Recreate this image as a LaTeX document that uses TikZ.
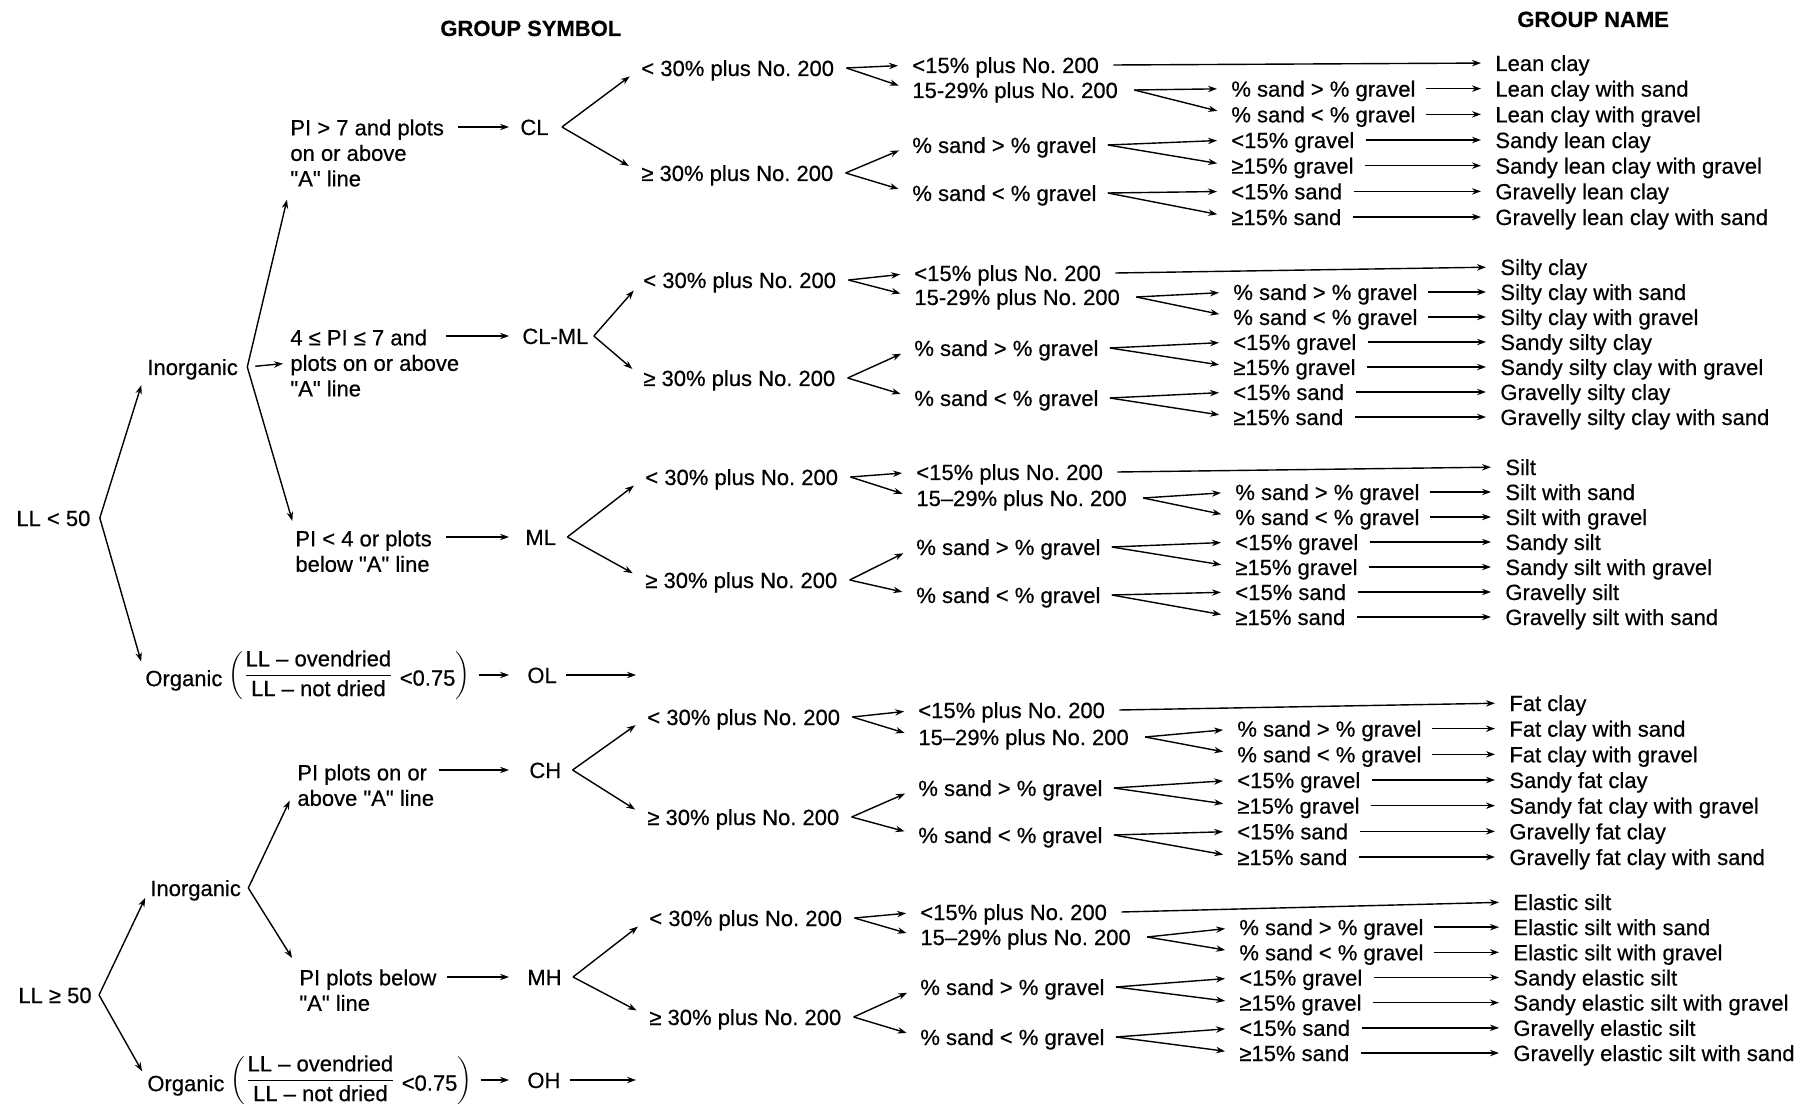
\documentclass[tikz,border=0pt]{standalone}
\usepackage{fontspec}
\setmainfont{Liberation Sans}[Ligatures=TeXOff, FakeBold=0.5]
\usetikzlibrary{arrows.meta}
\frenchspacing
\newcommand\dgfont{\fontsize{11pt}{12.75pt}\selectfont\frenchspacing}
\tikzset{
  txt/.style={inner sep=0pt, text height=8pt, text depth=0pt, anchor=west, font=\dgfont},
  mtxt/.style={inner sep=0pt, align=left, anchor=north west, font=\dgfont},
  otxt/.style={inner sep=0pt, anchor=west, font=\dgfont},
  hdr/.style={inner sep=0pt, text height=8pt, text depth=0pt, anchor=west, font=\dgfont\bfseries},
  arr/.style={line width=0.7pt, -{Stealth[length=4.5pt,width=3.2pt]}, shorten >=7pt},
}
% #1 prefix, #2 symbol node, #3 y <30, #4 y >=30, #5 y <15 plus, #6 y 15-29, #7 y sand>gravel, #8 y sand<gravel
\newcommand\soilgrp[8]{%
  \node[txt] (#1a) at ({641+\sgdx},#3) {< 30\% plus No. 200};
  \node[txt] (#1b) at ({641+\sgdx},#4) {≥ 30\% plus No. 200};
  \node[txt] (#1c) at ({912+\sgdx},#5) {<15\% plus No. 200};
  \node[txt] (#1d) at ({912+\sgdx},#6) {\sgdash\% plus No. 200};
  \node[txt] (#1e) at ({912+\sgdx},#7) {\% sand > \% gravel};
  \node[txt] (#1f) at ({912+\sgdx},#8) {\% sand < \% gravel};
  \node[txt] (#1g) at ({1231+\sgdx},{\sgy+\sgsp}) {\% sand > \% gravel};
  \node[txt] (#1h) at ({1231+\sgdx},{\sgy+2*\sgsp}) {\% sand < \% gravel};
  \node[txt] (#1i) at ({1231+\sgdx},{\sgy+3*\sgsp}) {<15\% gravel};
  \node[txt] (#1j) at ({1231+\sgdx},{\sgy+4*\sgsp}) {≥15\% gravel};
  \node[txt] (#1k) at ({1231+\sgdx},{\sgy+5*\sgsp}) {<15\% sand};
  \node[txt] (#1l) at ({1231+\sgdx},{\sgy+6*\sgsp}) {≥15\% sand};
  \node[txt] (#1n0) at (\sgnx,{\sgy}) {\sgcap};
  \node[txt] (#1n1) at (\sgnx,{\sgy+\sgsp}) {\sgcap{} with sand};
  \node[txt] (#1n2) at (\sgnx,{\sgy+2*\sgsp}) {\sgcap{} with gravel};
  \node[txt] (#1n3) at (\sgnx,{\sgy+3*\sgsp}) {Sandy \sglow};
  \node[txt] (#1n4) at (\sgnx,{\sgy+4*\sgsp}) {Sandy \sglow{} with gravel};
  \node[txt] (#1n5) at (\sgnx,{\sgy+5*\sgsp}) {Gravelly \sglow};
  \node[txt] (#1n6) at (\sgnx,{\sgy+6*\sgsp}) {Gravelly \sglow{} with sand};
  \draw[arr] ([xshift=\sgsg]#2.east) -- (#1a.west);
  \draw[arr] ([xshift=\sgsg]#2.east) -- (#1b.west);
  \draw[arr] ([xshift=6pt]#1a.east) -- (#1c.west);
  \draw[arr] ([xshift=6pt]#1a.east) -- (#1d.west);
  \draw[arr] ([xshift=6pt]#1b.east) -- (#1e.west);
  \draw[arr] ([xshift=6pt]#1b.east) -- (#1f.west);
  \draw[arr] ([xshift=7pt]#1c.east) -- (#1n0.west);
  \draw[arr] ([xshift=8pt]#1d.east) -- (#1g.west);
  \draw[arr] ([xshift=8pt]#1d.east) -- (#1h.west);
  \draw[arr] ([xshift=5.5pt]#1e.east) -- (#1i.west);
  \draw[arr] ([xshift=5.5pt]#1e.east) -- (#1j.west);
  \draw[arr] ([xshift=5.5pt]#1f.east) -- (#1k.west);
  \draw[arr] ([xshift=5.5pt]#1f.east) -- (#1l.west);
  \draw[arr] ([xshift=5pt]#1g.east) -- (#1n1.west);
  \draw[arr] ([xshift=5pt]#1h.east) -- (#1n2.west);
  \draw[arr] ([xshift=5.5pt]#1i.east) -- (#1n3.west);
  \draw[arr] ([xshift=5.5pt]#1j.east) -- (#1n4.west);
  \draw[arr] ([xshift=5.5pt]#1k.east) -- (#1n5.west);
  \draw[arr] ([xshift=5.5pt]#1l.east) -- (#1n6.west);
}
\begin{document}
\begin{tikzpicture}[x=0.5pt,y=-0.5pt]
\fill[white] (0,0) rectangle (1806,1107);
\useasboundingbox (0,0) rectangle (1806,1107);

% headers
\node[hdr] (hsym) at (440,28) {GROUP SYMBOL};
\node[hdr] (hname) at (1517,19) {GROUP NAME};

% LL < 50 branch
\node[txt] (ll1) at (16,518) {LL < 50};
\node[txt] (ino1) at (147,367) {Inorganic};
\node[otxt] (org1) at (145,675) {\raisebox{-2.5pt}{Organic} \(\left(\displaystyle\frac{\mbox{LL – ovendried}}{\mbox{LL – not dried}}\ \raisebox{-2.25pt}{\mbox{<0.75}}\right)\)};
\node[txt] (ol) at (527,675) {OL};
\coordinate (olend) at (636,675);

\node[mtxt] (pi7) at (290,119) {PI > 7 and plots\\on or above\\"A" line};
\node[mtxt] (pi47) at (290,329) {4 ≤ PI ≤ 7 and\\plots on or above\\"A" line};
\node[mtxt] (pi4) at (295,530) {PI < 4 or plots\\below "A" line};

\node[txt] (cl) at (520,127) {CL};
\node[txt] (clml) at (522,336) {CL-ML};
\node[txt] (ml) at (525,537) {ML};

\draw[arr, shorten >=9.5pt] ([xshift=4.5pt]ll1.east) -- (ino1.west);
\draw[arr, shorten >=7pt] ([xshift=4.5pt]ll1.east) -- (org1.west);
\draw[arr, shorten >=6.5pt] ([xshift=4.5pt]ino1.east) -- (pi7.south west);
\draw[arr, shorten <=4pt, shorten >=3.5pt] ([xshift=4.5pt]ino1.east) -- (pi47.west);
\draw[arr, shorten >=4.75pt] ([xshift=4.5pt]ino1.east) -- (pi4.north west);
\draw[arr, shorten <=4pt, shorten >=9pt] (org1.east) -- (ol.west);
\draw[arr, shorten <=4.5pt, shorten >=0pt] (ol.east) -- (olend);
\draw[arr, shorten <=7pt, shorten >=5.5pt] (cl.west -| pi7.east) -- (cl.west);
\draw[arr, shorten >=6.5pt] ([shift={(156,7)}]pi47.north west) -- (clml.west);
\draw[arr, shorten <=7pt, shorten >=8pt] (ml.west -| pi4.east) -- (ml.west);

% LL >= 50 branch
\node[txt] (ll2) at (18,995) {LL ≥ 50};
\node[txt] (ino2) at (150,888) {Inorganic};
\node[otxt] (org2) at (147,1080) {\raisebox{-2.5pt}{Organic} \(\left(\displaystyle\frac{\mbox{LL – ovendried}}{\mbox{LL – not dried}}\ \raisebox{-2.25pt}{\mbox{<0.75}}\right)\)};
\node[txt] (oh) at (527,1080) {OH};
\coordinate (ohend) at (636,1080);

\node[mtxt] (pion) at (297,764) {PI plots on or\\above "A" line};
\node[mtxt] (pibel) at (299,969) {PI plots below\\"A" line};

\node[txt] (ch) at (529,770) {CH};
\node[txt] (mh) at (527,977) {MH};

\draw[arr, shorten >=5.5pt] ([xshift=3.5pt]ll2.east) -- (ino2.west);
\draw[arr, shorten >=5pt] ([xshift=3.5pt]ll2.east) -- (org2.west);
\draw[arr, shorten >=8.5pt] ([xshift=3.5pt]ino2.east) -- (pion.west);
\draw[arr, shorten >=6.5pt] ([xshift=3.5pt]ino2.east) -- (pibel.north west);
\draw[arr, shorten <=4pt, shorten >=9pt] (org2.east) -- (oh.west);
\draw[arr, shorten <=4.5pt, shorten >=0pt] (oh.east) -- (ohend);
\draw[arr, shorten <=2pt, shorten >=10pt] (ch.west -| pion.east) -- (ch.west);
\draw[arr, shorten <=5pt, shorten >=9pt] (mh.west -| pibel.east) -- (mh.west);

% groups
\def\sgdx{0}\def\sgnx{1495}\def\sgy{63}\def\sgsp{25.67}\def\sgsg{6.5pt}%
\def\sgcap{Lean clay}\def\sglow{lean clay}\def\sgdash{15-29}%
\soilgrp{ga}{cl}{68}{173}{65}{90}{145}{193}

\def\sgdx{2}\def\sgnx{1500}\def\sgy{267}\def\sgsp{25}\def\sgsg{2.5pt}%
\def\sgcap{Silty clay}\def\sglow{silty clay}\def\sgdash{15-29}%
\soilgrp{gb}{clml}{280}{378}{273}{297}{348}{398}

\def\sgdx{4}\def\sgnx{1505}\def\sgy{467}\def\sgsp{25}\def\sgsg{5.5pt}%
\def\sgcap{Silt}\def\sglow{silt}\def\sgdash{15–29}%
\soilgrp{gc}{ml}{477}{580}{472}{498}{547}{595}

\def\sgdx{6}\def\sgnx{1509}\def\sgy{703}\def\sgsp{25.67}\def\sgsg{5.5pt}%
\def\sgcap{Fat clay}\def\sglow{fat clay}\def\sgdash{15–29}%
\soilgrp{gd}{ch}{717}{817}{710}{737}{788}{835}

\def\sgdx{8}\def\sgnx{1513}\def\sgy{902}\def\sgsp{25.17}\def\sgsg{5.5pt}%
\def\sgcap{Elastic silt}\def\sglow{elastic silt}\def\sgdash{15–29}%
\soilgrp{ge}{mh}{918}{1017}{912}{937}{987}{1037}
\end{tikzpicture}
\end{document}
